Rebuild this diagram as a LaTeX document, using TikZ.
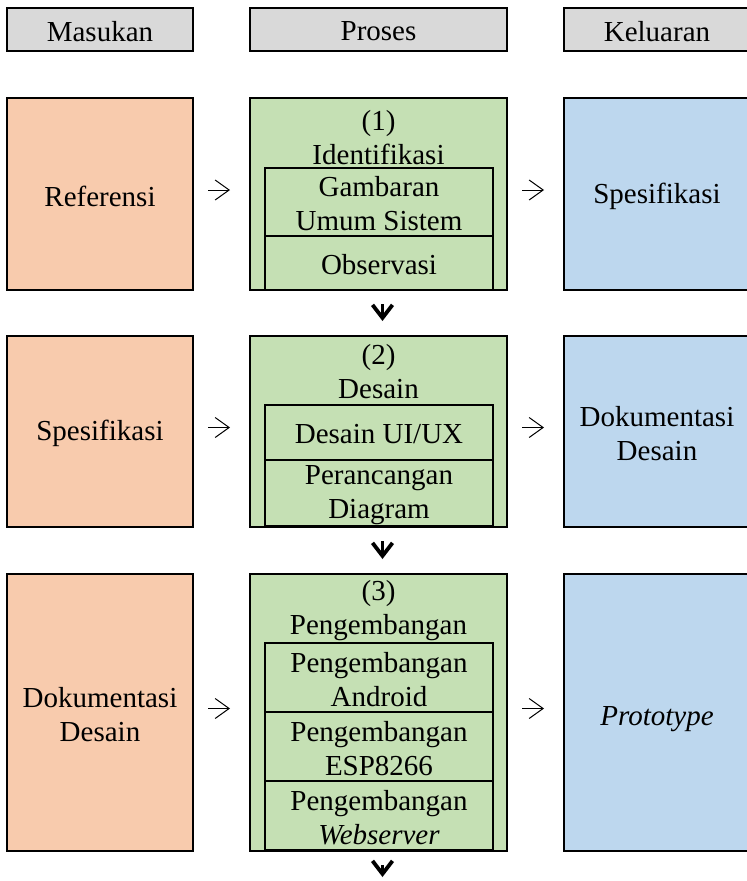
\documentclass[tikz,border=0pt]{standalone}
\usepackage{fontspec}
\setmainfont{Liberation Serif}
\usetikzlibrary{arrows.meta}
\definecolor{hdrgray}{HTML}{D9D9D9}
\definecolor{inorange}{HTML}{F8CBAD}
\definecolor{procgreen}{HTML}{C5E0B4}
\definecolor{outblue}{HTML}{BDD7EE}
\tikzset{
  base/.style={draw=black, line width=2.3pt, inner sep=0pt, outer sep=0pt,
    anchor=north west, font=\fontsize{29}{34}\selectfont, align=center},
  hdr/.style={base, fill=hdrgray, minimum height=43pt},
  inbox/.style={base, fill=inorange, minimum width=186pt},
  procbox/.style={base, fill=procgreen, minimum width=257pt},
  outbox/.style={base, fill=outblue, minimum width=196pt},
  cell/.style={base, fill=procgreen, line width=2pt, minimum width=228pt},
  txt/.style={inner sep=0pt, yshift=-2pt, font=\fontsize{29}{34}\selectfont, align=center},
  flow/.style={line width=1pt, shorten <=15pt, shorten >=20pt,
    -{Straight Barb[length=14pt,width=20pt]}},
  down/.style={line width=3.8pt, shorten <=14pt, shorten >=15pt,
    -{Straight Barb[length=13pt,width=20pt]}},
}
\begin{document}
\begin{tikzpicture}[x=1pt,y=-1pt]
\useasboundingbox (0,0) rectangle (747,881);
\clip (0,0) rectangle (747,881);

% column headers
\node[hdr, minimum width=186pt] (h1) at (7,8) {};
\node[txt] at (h1.center) {Masukan};
\node[hdr, minimum width=257pt] (h2) at (250,8) {};
\node[txt] at (h2.center) {Proses};
\node[hdr, minimum width=196pt] (h3) at (564,8) {};
\node[txt] at ([xshift=-5pt]h3.center) {Keluaran};

% stage 1
\node[inbox, minimum height=192pt] (i1) at (7,98) {};
\node[txt] at (i1.center) {Referensi};
\node[procbox, minimum height=192pt] (p1) at (250,98) {};
\node[txt] at (378.5,136) {(1)\\Identifikasi};
\node[cell, minimum height=68pt] (c11) at (265,168) {};
\node[txt] at (c11.center) {Gambaran\\Umum Sistem};
\node[cell, minimum height=54pt] (c12) at (265,236) {};
\node[txt] at (c12.center) {Observasi};
\draw[line width=2.3pt] (p1.north west) rectangle (p1.south east);
\node[outbox, minimum height=192pt] (o1) at (564,98) {};
\node[txt] at ([xshift=-5pt]o1.center) {Spesifikasi};

% stage 2
\node[inbox, minimum height=191pt] (i2) at (7,336) {};
\node[txt] at (i2.center) {Spesifikasi};
\node[procbox, minimum height=191pt] (p2) at (250,336) {};
\node[txt] at (378.5,370) {(2)\\Desain};
\node[cell, minimum height=55pt] (c21) at (265,405) {};
\node[txt] at (c21.center) {Desain UI/UX};
\node[cell, minimum height=66pt] (c22) at (265,460) {};
\node[txt] at (c22.center) {Perancangan\\Diagram};
\draw[line width=2.3pt] (p2.north west) rectangle (p2.south east);
\node[outbox, minimum height=191pt] (o2) at (564,336) {};
\node[txt] at ([xshift=-5pt]o2.center) {Dokumentasi\\Desain};

% stage 3
\node[inbox, minimum height=277pt] (i3) at (7,574) {};
\node[txt] at (i3.center) {Dokumentasi\\Desain};
\node[procbox, minimum height=277pt] (p3) at (250,574) {};
\node[txt] at (378.5,609) {(3)\\Pengembangan};
\node[cell, minimum height=69pt] (c31) at (265,643) {};
\node[txt] at (c31.center) {Pengembangan\\Android};
\node[cell, minimum height=69pt] (c32) at (265,712) {};
\node[txt] at (c32.center) {Pengembangan\\ESP8266};
\node[cell, minimum height=69pt] (c33) at (265,781) {};
\node[txt] at (c33.center) {Pengembangan\\\textit{Webserver}};
\draw[line width=2.3pt] (p3.north west) rectangle (p3.south east);
\node[outbox, minimum height=277pt] (o3) at (564,574) {};
\node[txt] at ([xshift=-5pt,yshift=-5pt]o3.center) {\textit{Prototype}};

% flow arrows, sitting slightly above the box centres
\foreach \k in {1,2,3} {
  \draw[flow] ([yshift=4pt]i\k.east) -- ([yshift=4pt]p\k.west);
  \draw[flow] ([yshift=4pt]p\k.east) -- ([yshift=4pt]o\k.west);
}
\draw[down] ([xshift=4pt]p1.south) -- ([xshift=4pt]p2.north);
\draw[down] ([xshift=4pt]p2.south) -- ([xshift=4pt]p3.north);
\coordinate (end) at ([xshift=4pt,yshift=-41pt]p3.south);
\draw[down] ([xshift=4pt]p3.south) -- (end);
\end{tikzpicture}
\end{document}
